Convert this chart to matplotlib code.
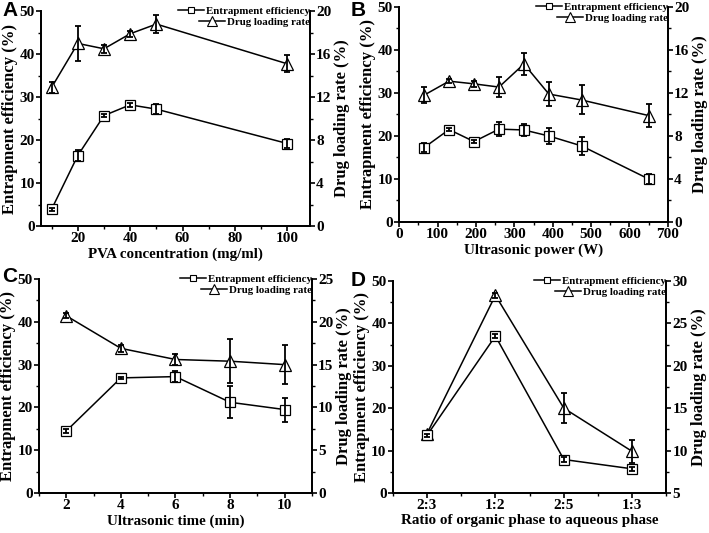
import matplotlib
matplotlib.use("Agg")
from matplotlib import pyplot as plt
from matplotlib.lines import Line2D
from matplotlib.ticker import MultipleLocator

# ---- data ----
a_x = [10, 20, 30, 40, 50, 100]
a_ee = [3.9, 16.4, 25.7, 28.2, 27.2, 19.2]
a_ee_err = [0.4, 1.3, 0.4, 0.5, 1.2, 1.0]
a_dlr = [12.9, 17.0, 16.5, 17.9, 18.8, 15.1]
a_dlr_err = [0.5, 1.6, 0.35, 0.3, 0.8, 0.8]

b_x = [65, 130, 195, 260, 325, 390, 475, 650]
b_ee = [17.3, 21.5, 18.7, 21.6, 21.4, 20.0, 17.7, 10.0]
b_ee_err = [1.1, 0.4, 0.4, 1.6, 1.5, 1.8, 2.1, 1.2]
b_dlr = [11.8, 13.1, 12.85, 12.55, 14.7, 11.9, 11.35, 9.9]
b_dlr_err = [0.75, 0.2, 0.3, 0.95, 1.05, 1.1, 1.35, 1.1]

c_x = [2, 4, 6, 8, 10]
c_ee = [14.5, 26.9, 27.2, 21.2, 19.5]
c_ee_err = [0.4, 0.3, 1.3, 3.7, 2.8]
c_dlr = [20.7, 16.9, 15.6, 15.4, 15.0]
c_dlr_err = [0.3, 0.4, 0.6, 2.6, 2.3]

d_labels = ['2:3', '1:2', '2:5', '1:3']
d_ee = [13.6, 37.0, 7.9, 5.7]
d_ee_err = [0.3, 0.4, 0.5, 0.5]
d_dlr = [12.0, 28.3, 15.0, 9.9]
d_dlr_err = [0.3, 0.3, 1.8, 1.4]

plt.rcParams['font.family'] = ['Liberation Serif', 'DejaVu Serif']
plt.rcParams['font.weight'] = 'bold'
plt.rcParams['axes.labelweight'] = 'bold'

FS = 11
W, H = 709, 533


def style_axis(ax):
    ax.tick_params(direction='out', width=1.2, length=3.5, labelsize=FS, pad=1)
    ax.tick_params(which='minor', direction='out', width=1.0, length=2.2)
    for s in ax.spines.values():
        s.set_linewidth(1.3)
    ax.spines['top'].set_visible(False)


def panel(fig, rect, letter, letter_xy, x, ee, ee_err, dlr, dlr_err, xlabel, xlim,
          right_lim, right_step, x_major=None, x_minor=None, ticklabels=None):
    ax = fig.add_axes(rect)
    ax2 = ax.twinx()
    ax.set_zorder(ax2.get_zorder() + 1)
    ax.patch.set_visible(False)

    ax.plot(x, ee, '-', color='k', lw=1.1, marker='s', ms=6.5, mfc='white', mec='k',
            mew=0.9, zorder=2)
    ax.errorbar(x, ee, yerr=ee_err, fmt='none', ecolor='k', elinewidth=1.3,
                capsize=2.5, capthick=1.3, zorder=3)
    ax2.plot(x, dlr, '-', color='k', lw=1.1, marker='^', ms=8.5, mfc='white', mec='k',
             mew=0.9, zorder=2)
    ax2.errorbar(x, dlr, yerr=dlr_err, fmt='none', ecolor='k', elinewidth=1.3,
                 capsize=2.5, capthick=1.3, zorder=3)

    ax.set_xlim(*xlim)
    ax.set_ylim(0, 50)
    ax.yaxis.set_major_locator(MultipleLocator(10))
    ax.yaxis.set_minor_locator(MultipleLocator(5))
    ax2.set_ylim(*right_lim)
    ax2.yaxis.set_major_locator(MultipleLocator(right_step))
    ax2.yaxis.set_minor_locator(MultipleLocator(right_step / 2))
    if ticklabels is not None:
        ax.set_xticks(range(len(ticklabels)))
        ax.set_xticklabels(ticklabels)
        ax.xaxis.set_minor_locator(MultipleLocator(0.5))
    else:
        ax.xaxis.set_major_locator(MultipleLocator(x_major))
        ax.xaxis.set_minor_locator(MultipleLocator(x_minor))

    for a in (ax, ax2):
        style_axis(a)
        for lab in a.get_xticklabels() + a.get_yticklabels():
            lab.set_fontweight('bold')

    ax.set_xlabel(xlabel, fontsize=10.8, labelpad=1.5)
    ax.set_ylabel('Entrapment efficiency (%)', fontsize=12, labelpad=1)
    ax2.set_ylabel('Drug loading rate (%)', fontsize=12, labelpad=2)

    h1 = Line2D([], [], color='k', lw=1.1, marker='s', ms=5, mfc='white', mec='k', mew=0.8)
    h2 = Line2D([], [], color='k', lw=1.1, marker='^', ms=6.5, mfc='white', mec='k', mew=0.8)
    leg1 = ax.legend([h1], ['Entrapment efficiency'], loc='center right',
                     bbox_to_anchor=(1.0, 1.0), frameon=False, fontsize=7.8,
                     handlelength=2.4, handletextpad=0.2, borderpad=0, borderaxespad=0)
    ax.add_artist(leg1)
    ax.legend([h2], ['Drug loading rate'], loc='center right',
              bbox_to_anchor=(1.0, 0.948), frameon=False, fontsize=7.8,
              handlelength=2.4, handletextpad=0.2, borderpad=0, borderaxespad=0)

    fig.text(letter_xy[0] / W, 1 - letter_xy[1] / H, letter, fontsize=15,
             fontweight='bold', family='Liberation Sans', va='center', ha='left')
    return ax


fig = plt.figure(figsize=(7.09, 5.33), dpi=100)

panel(fig, [0.058, 0.576, 0.379, 0.403], 'A', (2, 10), a_x, a_ee, a_ee_err, a_dlr,
      a_dlr_err, 'PVA concentration (mg/ml)', (6, 108.6), (0, 20), 4, x_major=20, x_minor=10)
panel(fig, [0.563, 0.5835, 0.379, 0.4034], 'B', (351, 10), b_x, b_ee, b_ee_err, b_dlr,
      b_dlr_err, 'Ultrasonic power (W)', (0, 700), (0, 20), 4, x_major=100, x_minor=50)
panel(fig, [0.055, 0.075, 0.385, 0.4015], 'C', (2, 276), c_x, c_ee, c_ee_err, c_dlr,
      c_dlr_err, 'Ultrasonic time (min)', (1, 11), (0, 25), 5, x_major=2, x_minor=1)
panel(fig, [0.554, 0.075, 0.386, 0.398], 'D', (351, 280), list(range(len(d_labels))),
      d_ee, d_ee_err, d_dlr, d_dlr_err, 'Ratio of organic phase to aqueous phase',
      (-0.5, 3.5), (5, 30), 5, ticklabels=d_labels)

fig.savefig('out.png', dpi=100)
